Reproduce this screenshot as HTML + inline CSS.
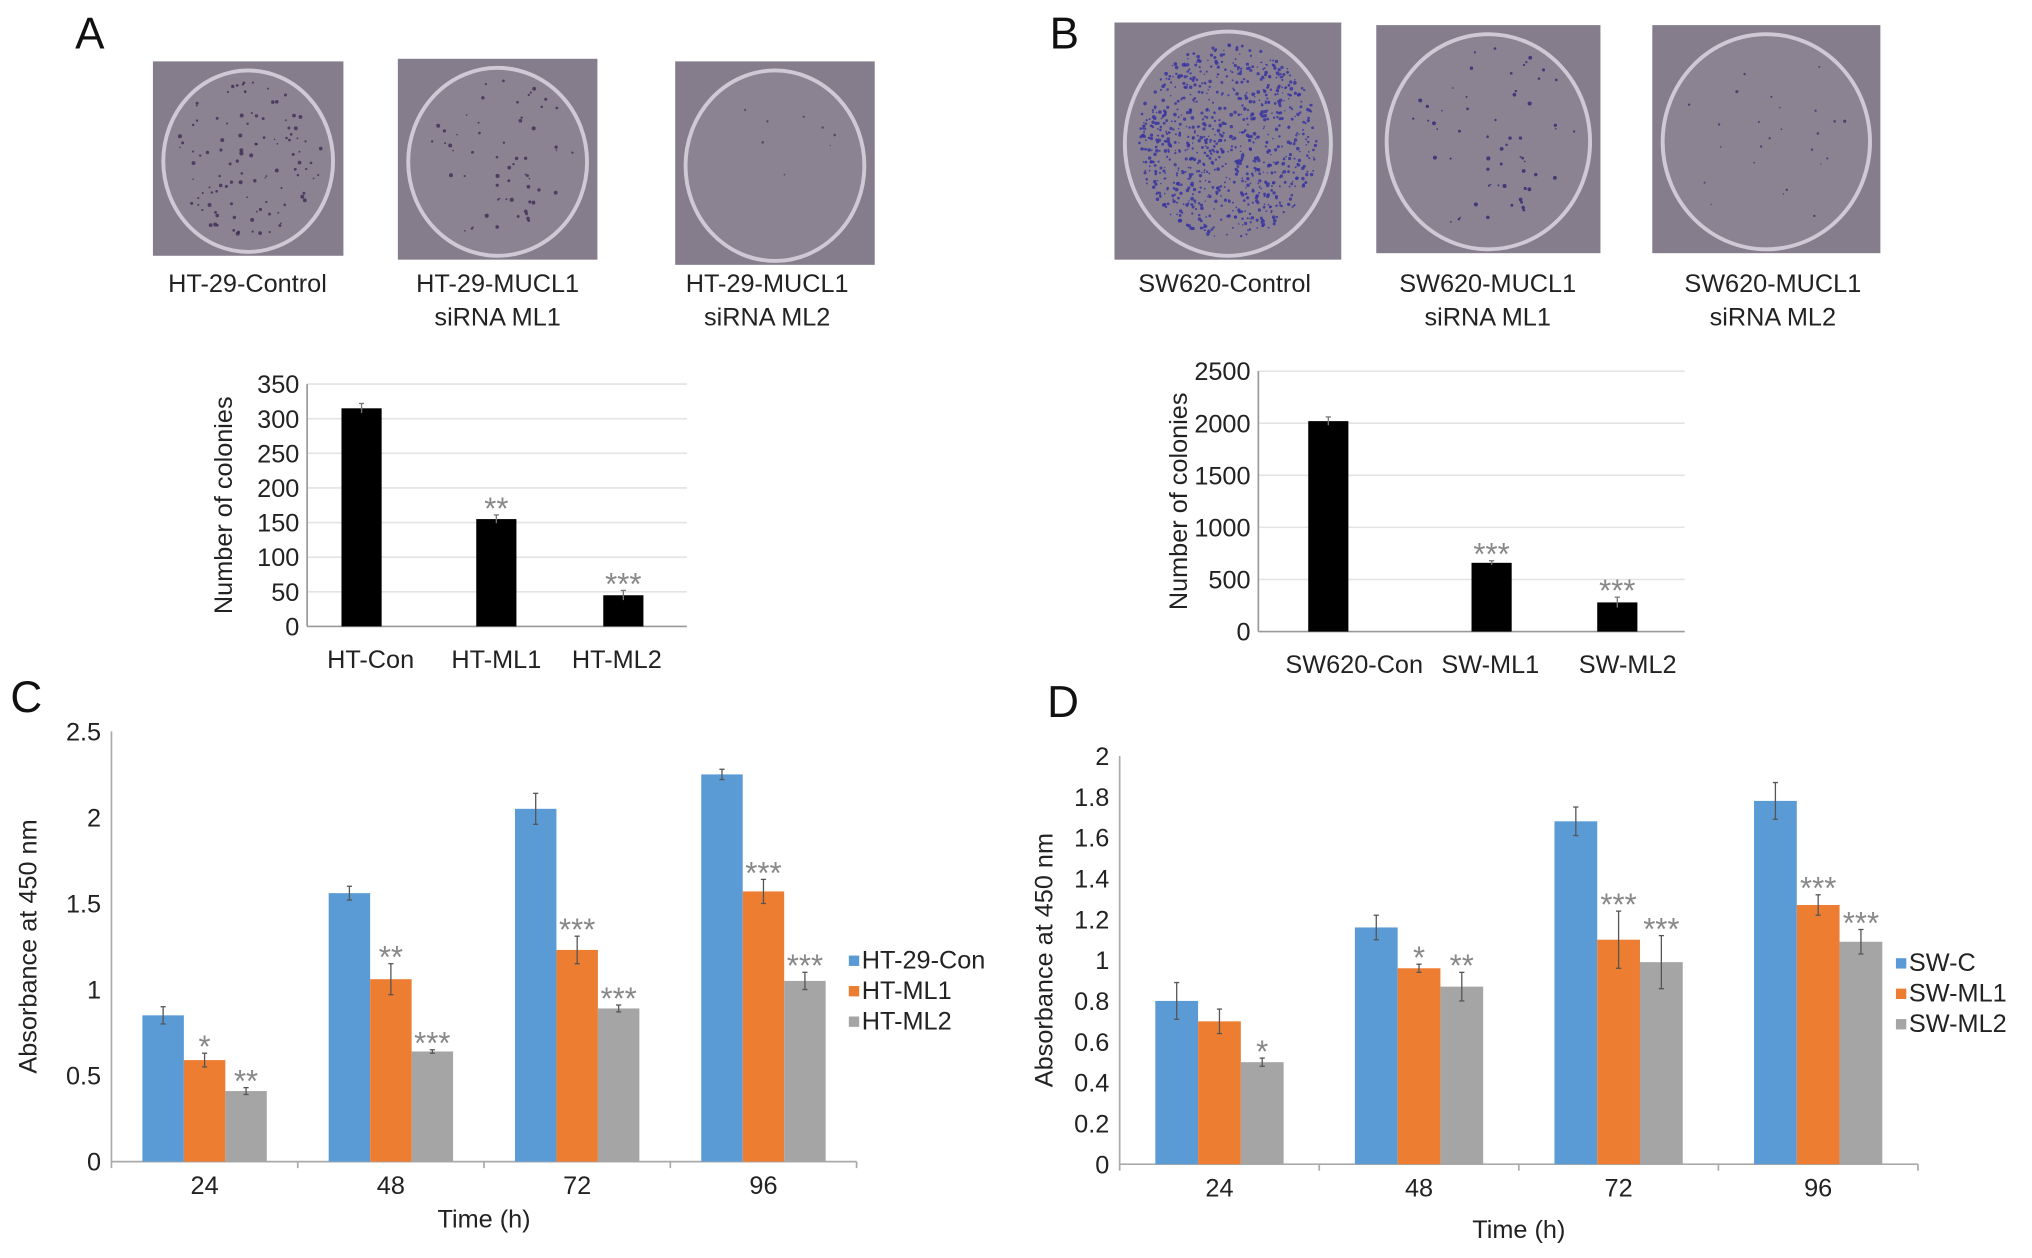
<!DOCTYPE html>
<html><head><meta charset="utf-8"><style>
html,body{margin:0;padding:0;background:#fff;}
svg{display:block;font-family:"Liberation Sans",Arial,sans-serif;}
</style></head><body>
<svg id="fig" width="2032" height="1258" viewBox="0 0 1568 970" xmlns="http://www.w3.org/2000/svg"></svg>
<script>
// ---- data ----
const aCats = ['HT-Con','HT-ML1','HT-ML2'];
const aVals = [315,155,45];
const aErr = [7,6,7];
const aStars = ['','**','***'];
const aTicks = [0,50,100,150,200,250,300,350];

const bCats = ['SW620-Con','SW-ML1','SW-ML2'];
const bVals = [2020,660,280];
const bErr = [40,20,50];
const bStars = ['','***','***'];
const bTicks = [0,500,1000,1500,2000,2500];

const cCats = ['24','48','72','96'];
const cSeries = ['HT-29-Con','HT-ML1','HT-ML2'];
const cCon = [0.85,1.56,2.05,2.25];
const cMl1 = [0.59,1.06,1.23,1.57];
const cMl2 = [0.41,0.64,0.89,1.05];
const cConErr = [0.05,0.04,0.09,0.03];
const cMl1Err = [0.04,0.09,0.08,0.07];
const cMl2Err = [0.02,0.01,0.02,0.05];
const cMl1Stars = ['*','**','***','***'];
const cMl2Stars = ['**','***','***','***'];
const cTicks = ['0','0.5','1','1.5','2','2.5'];

const dCats = ['24','48','72','96'];
const dSeries = ['SW-C','SW-ML1','SW-ML2'];
const dCon = [0.80,1.16,1.68,1.78];
const dMl1 = [0.70,0.96,1.10,1.27];
const dMl2 = [0.50,0.87,0.99,1.09];
const dConErr = [0.09,0.06,0.07,0.09];
const dMl1Err = [0.06,0.02,0.14,0.05];
const dMl2Err = [0.02,0.07,0.13,0.06];
const dMl1Stars = ['','*','***','***'];
const dMl2Stars = ['*','**','***','***'];
const dTicks = ['0','0.2','0.4','0.6','0.8','1','1.2','1.4','1.6','1.8','2'];

const NS='http://www.w3.org/2000/svg';
const svg=document.getElementById('fig');
function mk(tag,attrs,parent,text){const e=document.createElementNS(NS,tag);for(const k in attrs)e.setAttribute(k,attrs[k]);if(text!==undefined)e.textContent=text;(parent||svg).appendChild(e);return e;}
function grp(name){const g=mk('g',{});


return g;}

// panel letters
[['A',58,37],['B',810,37],['C',8,549],['D',808,553]].forEach(p=>{
 const t=mk('text',{x:p[1],y:p[2],'font-size':34,fill:'#111'},svg,p[0]);
 
 
});

// dish photos
function dish(name,x,y,w,h,dots,dotColor,rs){
 const g=grp(name);
 mk('rect',{x:x,y:y,width:w,height:h,fill:'#857d8c'},g);
 mk('ellipse',{cx:x+w/2,cy:y+h/2+2,rx:w/2-8,ry:h/2-5,fill:'#8b8392',stroke:'#cfc9d6','stroke-width':3},g);
 let s=(x*7+y*13)%97+1;
 function rnd(){s=(s*9301+49297)%233280;return s/233280;}
 for(let i=0;i<dots;i++){const a=rnd()*Math.PI*2,r=Math.sqrt(rnd())*0.92;
  mk('circle',{cx:x+w/2+Math.cos(a)*r*(w/2-12),cy:y+h/2+Math.sin(a)*r*(h/2-10),r:(0.6+rnd()*1.0)*rs,fill:dotColor,opacity:0.8},g);}
}
dish('dish-ht29-control',118,47,147,150,110,'#3c2d55',1);
dish('dish-ht29-ml1',307,45,154,155,60,'#3c2d55',1);
dish('dish-ht29-ml2',521,47,154,157,8,'#4a3d60',0.8);
dish('dish-sw620-control',860,17,175,183,900,'#3430a0',0.9);
dish('dish-sw620-ml1',1062,19,173,176,60,'#302870',1);
dish('dish-sw620-ml2',1275,19,176,176,25,'#3a3268',0.8);

function caption(name,lines,cx,y){
 const t=mk('text',{x:cx,y:y,'font-size':19.5,'text-anchor':'middle',fill:'#222'});
 
 
 lines.forEach((l,i)=>mk('tspan',{x:cx,dy:i?26:0},t,l));
}
caption('caption-ht29-control',['HT-29-Control'],191,225);
caption('caption-ht29-ml1',['HT-29-MUCL1','siRNA ML1'],384,225);
caption('caption-ht29-ml2',['HT-29-MUCL1','siRNA ML2'],592,225);
caption('caption-sw620-control',['SW620-Control'],945,225);
caption('caption-sw620-ml1',['SW620-MUCL1','siRNA ML1'],1148,225);
caption('caption-sw620-ml2',['SW620-MUCL1','siRNA ML2'],1368,225);

// colony bar chart
function colonyChart(prefix,cats,vals,errs,stars,ticks,x0,x1,yTop,yBot,centers,titleX,labelXs){
 const g=grp(prefix+'-chart');
 const max=ticks[ticks.length-1];
 const Y=v=>yBot-(v/max)*(yBot-yTop);
 ticks.forEach(t=>{
  if(t>0){const l=mk('line',{x1:x0,x2:x1,y1:Y(t),y2:Y(t),stroke:'#e3e3e3','stroke-width':1.2},g);
   
   }
  const tl=mk('text',{x:x0-6,y:Y(t)+7,'font-size':19.5,'text-anchor':'end',fill:'#222'},g,String(t));
  
  
 });
 mk('line',{x1:x0,x2:x0,y1:yTop,y2:yBot,stroke:'#999','stroke-width':1.3},g);
 mk('line',{x1:x0,x2:x1,y1:yBot,y2:yBot,stroke:'#999','stroke-width':1.3},g);
 cats.forEach((c,i)=>{
  const cx=centers[i],w=31;
  const b=mk('rect',{x:cx-w/2,y:Y(vals[i]),width:w,height:yBot-Y(vals[i]),fill:'#000'},g);
  
  
  mk('line',{x1:cx,x2:cx,y1:Y(vals[i]+errs[i]),y2:Y(vals[i]-errs[i]),stroke:'#777','stroke-width':1},g);
  mk('line',{x1:cx-2,x2:cx+2,y1:Y(vals[i]+errs[i]),y2:Y(vals[i]+errs[i]),stroke:'#777','stroke-width':1},g);
  if(stars[i]){const s=mk('text',{x:cx,y:Y(vals[i]+errs[i])+3,'font-size':24,'text-anchor':'middle',fill:'#888'},g,stars[i]);
   
   }
  const xl=mk('text',{x:labelXs[i],y:yBot+32,'font-size':19.5,'text-anchor':'middle',fill:'#222'},g,c);
  
  
 });
 const yt=mk('text',{x:0,y:0,'font-size':19.5,'text-anchor':'middle',fill:'#222',transform:`translate(${titleX},${(yTop+yBot)/2}) rotate(-90)`},g,'Number of colonies');
 
 
}
colonyChart('colony-ht29',aCats,aVals,aErr,aStars,aTicks,237,530,296,483,[279,383,481],179,[286,383,476]);
colonyChart('colony-sw620',bCats,bVals,bErr,bStars,bTicks,971,1300,286,487,[1025,1151,1248],916,[1045,1150,1256]);

// grouped bar chart
const COLORS=['#5b9bd5','#ed7d31','#a5a5a5'];
function groupChart(prefix,cats,series,vals,errs,starsArr,ticks,x0,x1,yTop,yBot,bw,titleX,legX,legY,timeY){
 const g=grp(prefix+'-chart');
 const max=parseFloat(ticks[ticks.length-1]);
 const Y=v=>yBot-(v/max)*(yBot-yTop);
 const cw=(x1-x0)/cats.length;
 ticks.forEach(t=>{
  const v=parseFloat(t);
  const tl=mk('text',{x:x0-8,y:Y(v)+7,'font-size':19.5,'text-anchor':'end',fill:'#222'},g,t);
  
  
 });
 mk('line',{x1:x0,x2:x0,y1:yTop,y2:yBot,stroke:'#aaa','stroke-width':1.3},g);
 mk('line',{x1:x0,x2:x1,y1:yBot,y2:yBot,stroke:'#aaa','stroke-width':1.3},g);
 for(let i=0;i<=cats.length;i++)mk('line',{x1:x0+i*cw,x2:x0+i*cw,y1:yBot,y2:yBot+5,stroke:'#aaa','stroke-width':1.3},g);
 cats.forEach((c,i)=>{
  const cx=x0+cw*(i+0.5);
  series.forEach((s,j)=>{
   const v=vals[j][i],e=errs[j][i];
   const bx=cx-1.5*bw+j*bw;
   const b=mk('rect',{x:bx,y:Y(v),width:bw,height:yBot-Y(v),fill:COLORS[j]},g);
   
   
   const mx=bx+bw/2;
   mk('line',{x1:mx,x2:mx,y1:Y(v+e),y2:Y(v-e),stroke:'#555','stroke-width':1},g);
   mk('line',{x1:mx-2,x2:mx+2,y1:Y(v+e),y2:Y(v+e),stroke:'#555','stroke-width':1},g);
   mk('line',{x1:mx-2,x2:mx+2,y1:Y(v-e),y2:Y(v-e),stroke:'#555','stroke-width':1},g);
   if(j>0&&starsArr[j-1][i]){
    const st=mk('text',{x:mx,y:Y(v+e)+3,'font-size':24,'text-anchor':'middle',fill:'#888'},g,starsArr[j-1][i]);
    
    
   }
  });
  const xl=mk('text',{x:cx,y:yBot+25,'font-size':19.5,'text-anchor':'middle',fill:'#222'},g,c);
  
  
 });
 const xt=mk('text',{x:(x0+x1)/2,y:timeY,'font-size':19.5,'text-anchor':'middle',fill:'#222'},g,'Time (h)');
 
 
 const yt=mk('text',{x:0,y:0,'font-size':19.5,'text-anchor':'middle',fill:'#222',transform:`translate(${titleX},${(yTop+yBot)/2}) rotate(-90)`},g,'Absorbance at 450 nm');
 
 
 series.forEach((s,j)=>{
  const lg=mk('g',{},g);
  
  
  mk('rect',{x:legX,y:legY+j*23.5-10,width:8,height:8,fill:COLORS[j]},lg);
  mk('text',{x:legX+10,y:legY+j*23.5,'font-size':19.5,fill:'#222'},lg,s);
 });
}
groupChart('absorbance-ht29',cCats,cSeries,[cCon,cMl1,cMl2],[cConErr,cMl1Err,cMl2Err],[cMl1Stars,cMl2Stars],cTicks,86,661,564,896,32,28,655,747,947);
groupChart('absorbance-sw620',dCats,dSeries,[dCon,dMl1,dMl2],[dConErr,dMl1Err,dMl2Err],[dMl1Stars,dMl2Stars],dTicks,864,1480,583,898,33,812,1463,749,955);
</script>
</body></html>
